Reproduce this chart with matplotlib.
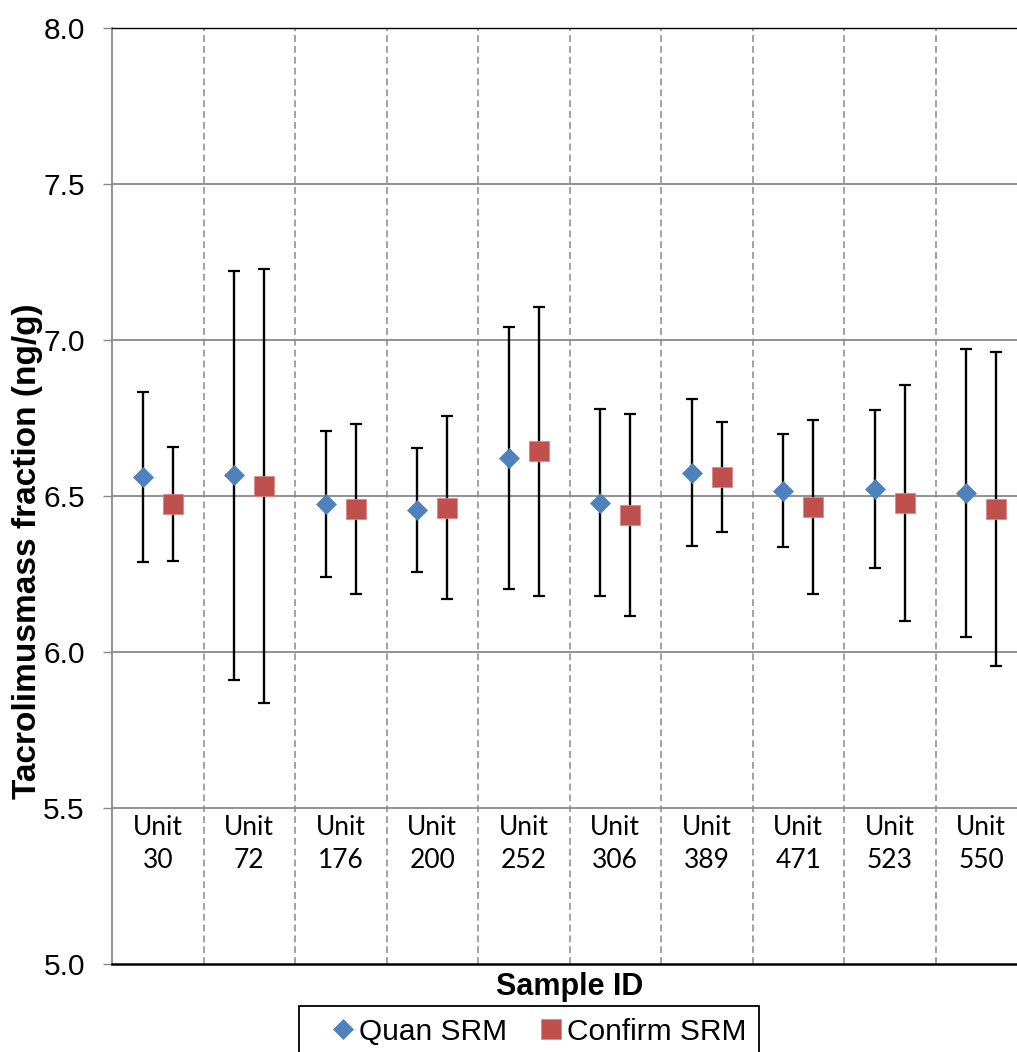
import matplotlib
matplotlib.use("Agg")
import matplotlib.pyplot as plt
import numpy as np

# Sample units and measured tacrolimus mass fractions (ng/g) with expanded uncertainties
units = ["30", "72", "176", "200", "252", "306", "389", "471", "523", "550"]
quan_vals = [6.560, 6.566, 6.473, 6.455, 6.622, 6.478, 6.575, 6.517, 6.523, 6.509]
quan_err = [0.272, 0.655, 0.234, 0.199, 0.420, 0.300, 0.236, 0.181, 0.254, 0.461]
conf_vals = [6.475, 6.532, 6.458, 6.462, 6.644, 6.439, 6.562, 6.466, 6.478, 6.458]
conf_err = [0.182, 0.696, 0.272, 0.293, 0.463, 0.323, 0.176, 0.279, 0.378, 0.503]
yticks = [5.0, 5.5, 6.0, 6.5, 7.0, 7.5, 8.0]

W, H = 1017, 1052
fig = plt.figure(figsize=(W / 100, H / 100), dpi=100)
ax = fig.add_axes([112 / W, (H - 964) / H, (1027 - 112) / W, (964 - 28) / H])

x = np.arange(len(units))
off = 0.165
blue = "#4F81BD"
red = "#C0504D"
grid_c = "#898989"

# horizontal gridlines
for yv in yticks[1:-1]:
    ax.axhline(yv, color=grid_c, lw=1.3, zorder=1)
# dashed category separators
for b in x[:-1] + 0.5:
    ax.axvline(b, color=grid_c, lw=1.1, dashes=(4.5, 2.6), zorder=1)

ekw = dict(fmt="none", ecolor="black", elinewidth=1.7, capsize=4.3, capthick=1.6, zorder=3)
ax.errorbar(x - off, quan_vals, yerr=quan_err, **ekw)
ax.errorbar(x + off, conf_vals, yerr=conf_err, **ekw)
ax.plot(x - off, quan_vals, linestyle="none", marker="D", ms=10, color=blue,
        mec=blue, mew=0.5, zorder=4, label="Quan SRM")
ax.plot(x + off, conf_vals, linestyle="none", marker="s", ms=14.4, color=red,
        mec="#D98a88", mew=0.6, zorder=4, label="Confirm SRM")

# category labels sit inside the plot, below the 5.5 line
for xi, u in zip(x, units):
    ax.text(xi, 5.385, "Unit\n" + u, ha="center", va="center", multialignment="center",
            fontsize=19, family=["Lato", "DejaVu Sans"], linespacing=1.4, zorder=2)

ax.set_xlim(-0.5, len(units) - 0.5)
ax.set_ylim(5.0, 8.0)
ax.set_xticks([])
ax.set_yticks(yticks)
ax.set_yticklabels([f"{v:.1f}" for v in yticks], fontsize=21.5, family="Liberation Sans")
ax.tick_params(axis="y", direction="out", length=6.5, width=1, color=grid_c, pad=13)

ax.spines["left"].set_color(grid_c)
ax.spines["left"].set_linewidth(1.3)
ax.spines["top"].set_color("black")
ax.spines["top"].set_linewidth(1.0)
ax.spines["bottom"].set_color("black")
ax.spines["bottom"].set_linewidth(1.8)
ax.spines["right"].set_visible(False)

fig.text(28 / W, 1 - 551 / H, "Tacrolimusmass fraction (ng/g)", rotation=90,
         ha="center", va="center", fontsize=24, fontweight="bold", family="Liberation Sans")
fig.text(570 / W, 1 - 987 / H, "Sample ID", ha="center", va="center",
         fontsize=22, fontweight="bold", family="Liberation Sans")

leg = fig.legend(loc="upper left", bbox_to_anchor=(299 / W, 1 - 1006 / H), ncol=2,
                 frameon=True, fancybox=False, edgecolor="black", framealpha=1,
                 prop={"family": "Liberation Sans", "size": 21.5},
                 handlelength=2.13, handletextpad=-0.53, columnspacing=0.43,
                 borderpad=0.4, borderaxespad=0, markerscale=1.0)
leg.get_frame().set_linewidth(1.3)

fig.savefig("out.png", dpi=100)
